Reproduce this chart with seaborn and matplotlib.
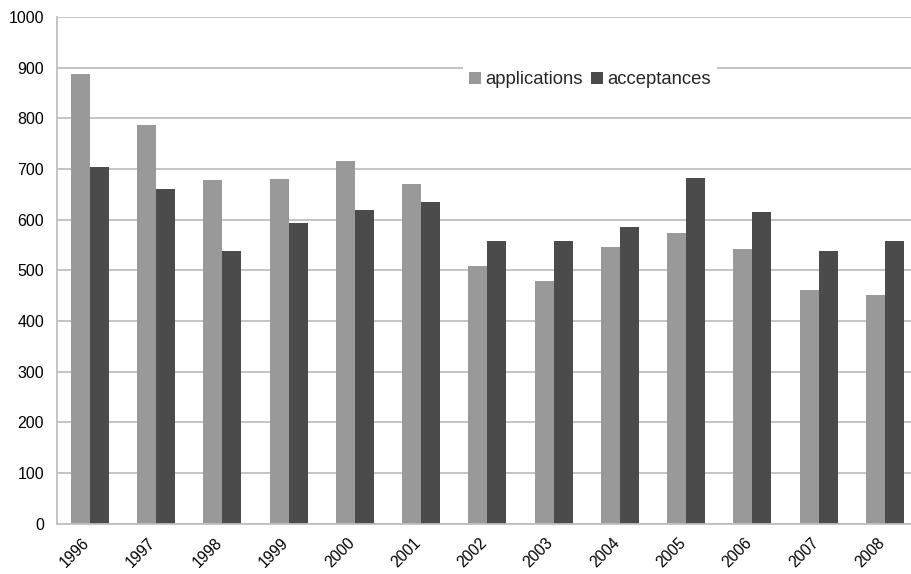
import matplotlib
matplotlib.use("Agg")
import matplotlib.pyplot as plt
import matplotlib.transforms as mtransforms
import seaborn as sns
import pandas as pd
import numpy as np
from matplotlib.ticker import FixedLocator

years = ["1996", "1997", "1998", "1999", "2000", "2001", "2002",
         "2003", "2004", "2005", "2006", "2007", "2008"]
applications = [888, 787, 678, 680, 716, 670, 509, 479, 546, 574, 542, 461, 451]
acceptances = [704, 660, 538, 593, 619, 635, 558, 558, 586, 682, 615, 538, 558]
series_names = ["applications", "acceptances"]
series_colors = ["#999999", "#4b4b4b"]

df = pd.DataFrame({
    "year": years * 2,
    "value": applications + acceptances,
    "series": [series_names[0]] * len(years) + [series_names[1]] * len(years),
})

sns.set_theme(style="white")
plt.rcParams["font.family"] = ["Liberation Sans", "DejaVu Sans"]

W, H = 911, 574
fig = plt.figure(figsize=(W / 100, H / 100), dpi=100)
left_px, right_px, top_px, bottom_px = 56.7, 918.0, 17.0, 523.7
ax = fig.add_axes([left_px / W, 1 - bottom_px / H,
                   (right_px - left_px) / W, (bottom_px - top_px) / H])

sns.barplot(data=df, x="year", y="value", hue="series", order=years,
            hue_order=series_names, palette=series_colors, width=0.574,
            gap=0, saturation=1, linewidth=0, ax=ax)

grid_c = "#bfbfbf"
ax.set_xlim(-0.5, len(years) - 0.5)
ax.set_ylim(0, 1000)
ax.set_yticks(np.arange(0, 1001, 100))
ax.yaxis.grid(True, color=grid_c, linewidth=1.3)
ax.set_axisbelow(True)
ax.set_xlabel("")
ax.set_ylabel("")

for s in ["top", "right"]:
    ax.spines[s].set_visible(False)
for s in ["left", "bottom"]:
    ax.spines[s].set_color(grid_c)
    ax.spines[s].set_linewidth(1.3)

ax.tick_params(axis="y", which="major", length=5, width=1.2, color=grid_c,
               labelsize=11.5, labelcolor="#000000", pad=4)
ax.tick_params(axis="x", which="major", length=0, labelsize=11.2,
               labelcolor="#000000", pad=8)
ax.xaxis.set_minor_locator(FixedLocator(np.arange(-0.5, len(years), 1.0)))
ax.tick_params(axis="x", which="minor", length=5, width=1.2, color=grid_c)
shift = mtransforms.ScaledTranslation(-8 / 100, 0, fig.dpi_scale_trans)
for lbl in ax.get_xticklabels():
    lbl.set_rotation(45)
    lbl.set_ha("right")
    lbl.set_rotation_mode("anchor")
    lbl.set_transform(lbl.get_transform() + shift)

handles, labels = ax.get_legend_handles_labels()
leg = ax.legend(handles, labels, ncol=2, loc="center",
                bbox_to_anchor=(0.619, 0.876), fontsize=13.3,
                frameon=True, fancybox=False, framealpha=1,
                handlelength=0.65, handleheight=0.65, handletextpad=0.25,
                columnspacing=0.45, borderpad=0.3, borderaxespad=0)
leg.get_frame().set_facecolor("white")
leg.get_frame().set_edgecolor("white")
leg.get_frame().set_linewidth(0)

fig.savefig("out.png", dpi=100)
